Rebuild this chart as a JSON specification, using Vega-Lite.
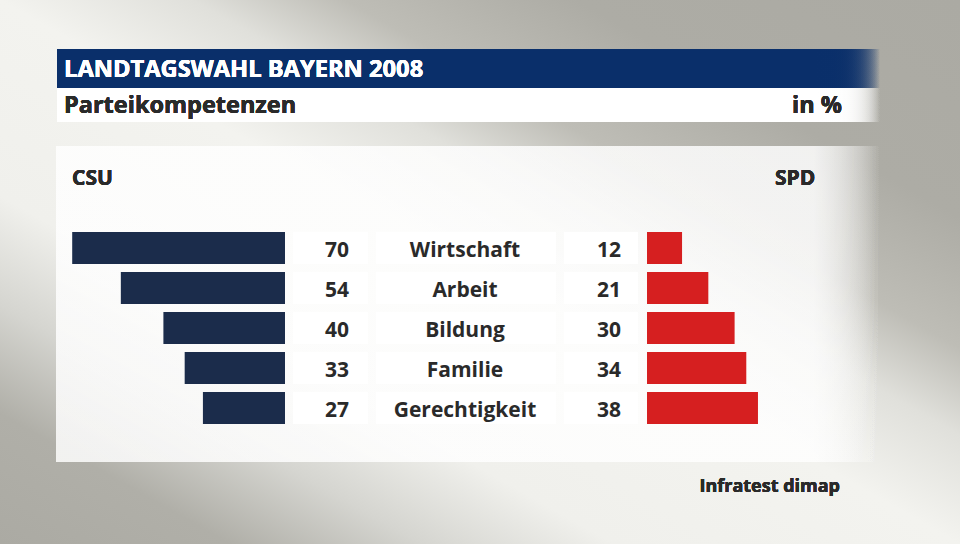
{
  "$schema": "https://vega.github.io/schema/vega-lite/v6.json",
  "width": 960,
  "height": 544,
  "autosize": {"type": "fit", "contains": "padding"},
  "padding": 0,
  "background": "#abaaa3",
  "config": {
    "view": {"stroke": null},
    "axis": {"disable": true},
    "text": {"font": "Open Sans", "fontWeight": "bold", "color": "#2a2a2a"}
  },
  "datasets": {
    "kompetenz": [
      {"thema": "Wirtschaft", "CSU": 70, "SPD": 12},
      {"thema": "Arbeit", "CSU": 54, "SPD": 21},
      {"thema": "Bildung", "CSU": 40, "SPD": 30},
      {"thema": "Familie", "CSU": 33, "SPD": 34},
      {"thema": "Gerechtigkeit", "CSU": 27, "SPD": 38}
    ]
  },
  "data": {"name": "kompetenz"},
  "resolve": {"scale": {"x": "independent", "y": "independent"}},
  "layer": [
    {
      "mark": {"type": "rect", "fill": {"gradient": "linear", "x1": 0, "y1": 1, "x2": 1, "y2": 0, "stops": [
        {"offset": 0, "color": "#abaaa3"},
        {"offset": 0.12, "color": "#b0afa8"},
        {"offset": 0.22, "color": "#d5d5d0"},
        {"offset": 0.32, "color": "#f0f0ec"},
        {"offset": 0.5, "color": "#f3f3ef"},
        {"offset": 0.6, "color": "#e0e0db"},
        {"offset": 0.68, "color": "#bebdb6"},
        {"offset": 0.8, "color": "#adaca5"},
        {"offset": 1, "color": "#abaaa3"}]}},
      "encoding": {
        "x": {"datum": 0, "type": "quantitative", "scale": {"domain": [0, 960], "nice": false, "zero": false}},
        "x2": {"datum": 960},
        "y": {"datum": 0, "type": "quantitative", "scale": {"domain": [0, 544], "nice": false, "zero": false, "reverse": true}},
        "y2": {"datum": 544}
      }
    },
    {
      "mark": {"type": "rect", "fill": {"gradient": "linear", "x1": 0, "y1": 0, "x2": 1, "y2": 0, "stops": [
        {"offset": 0, "color": "rgba(255,255,255,0.3)"},
        {"offset": 0.919, "color": "rgba(255,255,255,0.3)"},
        {"offset": 1, "color": "rgba(255,255,255,0)"}]}},
      "encoding": {
        "x": {"datum": 56, "type": "quantitative", "scale": {"domain": [0, 960], "nice": false, "zero": false}},
        "x2": {"datum": 880},
        "y": {"datum": 146, "type": "quantitative", "scale": {"domain": [0, 544], "nice": false, "zero": false, "reverse": true}},
        "y2": {"datum": 462}
      }
    },
    {
      "mark": {"type": "rect", "fill": {"gradient": "linear", "x1": 0, "y1": 0, "x2": 1, "y2": 0, "stops": [
        {"offset": 0, "color": "#0a2f6a"},
        {"offset": 0.919, "color": "#0a2f6a"},
        {"offset": 1, "color": "rgba(10,47,106,0)"}]}},
      "encoding": {
        "x": {"datum": 57, "type": "quantitative", "scale": {"domain": [0, 960], "nice": false, "zero": false}},
        "x2": {"datum": 880},
        "y": {"datum": 49, "type": "quantitative", "scale": {"domain": [0, 544], "nice": false, "zero": false, "reverse": true}},
        "y2": {"datum": 88}
      }
    },
    {
      "mark": {"type": "rect", "fill": {"gradient": "linear", "x1": 0, "y1": 0, "x2": 1, "y2": 0, "stops": [
        {"offset": 0, "color": "#ffffff"},
        {"offset": 0.919, "color": "#ffffff"},
        {"offset": 1, "color": "rgba(255,255,255,0)"}]}},
      "encoding": {
        "x": {"datum": 57, "type": "quantitative", "scale": {"domain": [0, 960], "nice": false, "zero": false}},
        "x2": {"datum": 880},
        "y": {"datum": 88, "type": "quantitative", "scale": {"domain": [0, 544], "nice": false, "zero": false, "reverse": true}},
        "y2": {"datum": 122}
      }
    },
    {
      "mark": {"type": "text", "text": "LANDTAGSWAHL BAYERN 2008", "fontSize": 23.7, "color": "#ffffff", "align": "left", "baseline": "alphabetic"},
      "encoding": {
        "x": {"datum": 64, "type": "quantitative", "scale": {"domain": [0, 960], "nice": false, "zero": false}},
        "y": {"datum": 77, "type": "quantitative", "scale": {"domain": [0, 544], "nice": false, "zero": false, "reverse": true}}
      }
    },
    {
      "mark": {"type": "text", "text": "Parteikompetenzen", "fontSize": 23.5, "align": "left", "baseline": "alphabetic"},
      "encoding": {
        "x": {"datum": 64, "type": "quantitative", "scale": {"domain": [0, 960], "nice": false, "zero": false}},
        "y": {"datum": 113, "type": "quantitative", "scale": {"domain": [0, 544], "nice": false, "zero": false, "reverse": true}}
      }
    },
    {
      "mark": {"type": "text", "text": "in %", "fontSize": 23.5, "align": "right", "baseline": "alphabetic"},
      "encoding": {
        "x": {"datum": 842, "type": "quantitative", "scale": {"domain": [0, 960], "nice": false, "zero": false}},
        "y": {"datum": 113, "type": "quantitative", "scale": {"domain": [0, 544], "nice": false, "zero": false, "reverse": true}}
      }
    },
    {
      "mark": {"type": "text", "text": "CSU", "fontSize": 21, "align": "left", "baseline": "alphabetic"},
      "encoding": {
        "x": {"datum": 72, "type": "quantitative", "scale": {"domain": [0, 960], "nice": false, "zero": false}},
        "y": {"datum": 185, "type": "quantitative", "scale": {"domain": [0, 544], "nice": false, "zero": false, "reverse": true}}
      }
    },
    {
      "mark": {"type": "text", "text": "SPD", "fontSize": 21, "align": "left", "baseline": "alphabetic"},
      "encoding": {
        "x": {"datum": 775, "type": "quantitative", "scale": {"domain": [0, 960], "nice": false, "zero": false}},
        "y": {"datum": 185, "type": "quantitative", "scale": {"domain": [0, 544], "nice": false, "zero": false, "reverse": true}}
      }
    },
    {
      "mark": {"type": "text", "text": "Infratest dimap", "fontSize": 18, "align": "right", "baseline": "alphabetic"},
      "encoding": {
        "x": {"datum": 840, "type": "quantitative", "scale": {"domain": [0, 960], "nice": false, "zero": false}},
        "y": {"datum": 492, "type": "quantitative", "scale": {"domain": [0, 544], "nice": false, "zero": false, "reverse": true}}
      }
    },
    {
      "mark": {"type": "bar", "fill": "#1b2c4b"},
      "encoding": {
        "y": {"field": "thema", "type": "nominal", "sort": null, "scale": {"range": [228, 428], "paddingInner": 0.2, "paddingOuter": 0.1}},
        "x": {"field": "CSU", "type": "quantitative", "scale": {"domain": [93.75, -222.04], "nice": false, "zero": false}},
        "x2": {"datum": 0}
      }
    },
    {
      "mark": {"type": "bar", "fill": "#d61f20"},
      "encoding": {
        "y": {"field": "thema", "type": "nominal", "sort": null, "scale": {"range": [228, 428], "paddingInner": 0.2, "paddingOuter": 0.1}},
        "x": {"field": "SPD", "type": "quantitative", "scale": {"domain": [-221.58, 107.19], "nice": false, "zero": false}},
        "x2": {"datum": 0}
      }
    },
    {
      "mark": {"type": "rect", "fill": "#ffffff"},
      "encoding": {
        "y": {"field": "thema", "type": "nominal", "sort": null, "scale": {"range": [228, 428], "paddingInner": 0.2, "paddingOuter": 0.1}},
        "x": {"datum": 293, "type": "quantitative", "scale": {"domain": [0, 960], "nice": false, "zero": false}},
        "x2": {"datum": 368}
      }
    },
    {
      "mark": {"type": "rect", "fill": "#ffffff"},
      "encoding": {
        "y": {"field": "thema", "type": "nominal", "sort": null, "scale": {"range": [228, 428], "paddingInner": 0.2, "paddingOuter": 0.1}},
        "x": {"datum": 376, "type": "quantitative", "scale": {"domain": [0, 960], "nice": false, "zero": false}},
        "x2": {"datum": 556}
      }
    },
    {
      "mark": {"type": "rect", "fill": "#ffffff"},
      "encoding": {
        "y": {"field": "thema", "type": "nominal", "sort": null, "scale": {"range": [228, 428], "paddingInner": 0.2, "paddingOuter": 0.1}},
        "x": {"datum": 564, "type": "quantitative", "scale": {"domain": [0, 960], "nice": false, "zero": false}},
        "x2": {"datum": 638}
      }
    },
    {
      "mark": {"type": "text", "fontSize": 21, "align": "right", "baseline": "alphabetic", "dy": 9},
      "encoding": {
        "y": {"field": "thema", "type": "nominal", "sort": null, "scale": {"range": [228, 428], "paddingInner": 0.2, "paddingOuter": 0.1}},
        "x": {"datum": 349, "type": "quantitative", "scale": {"domain": [0, 960], "nice": false, "zero": false}},
        "text": {"field": "CSU", "type": "quantitative"}
      }
    },
    {
      "mark": {"type": "text", "fontSize": 21, "align": "center", "baseline": "alphabetic", "dy": 9},
      "encoding": {
        "y": {"field": "thema", "type": "nominal", "sort": null, "scale": {"range": [228, 428], "paddingInner": 0.2, "paddingOuter": 0.1}},
        "x": {"datum": 465, "type": "quantitative", "scale": {"domain": [0, 960], "nice": false, "zero": false}},
        "text": {"field": "thema", "type": "nominal"}
      }
    },
    {
      "mark": {"type": "text", "fontSize": 21, "align": "right", "baseline": "alphabetic", "dy": 9},
      "encoding": {
        "y": {"field": "thema", "type": "nominal", "sort": null, "scale": {"range": [228, 428], "paddingInner": 0.2, "paddingOuter": 0.1}},
        "x": {"datum": 621, "type": "quantitative", "scale": {"domain": [0, 960], "nice": false, "zero": false}},
        "text": {"field": "SPD", "type": "quantitative"}
      }
    }
  ]
}
